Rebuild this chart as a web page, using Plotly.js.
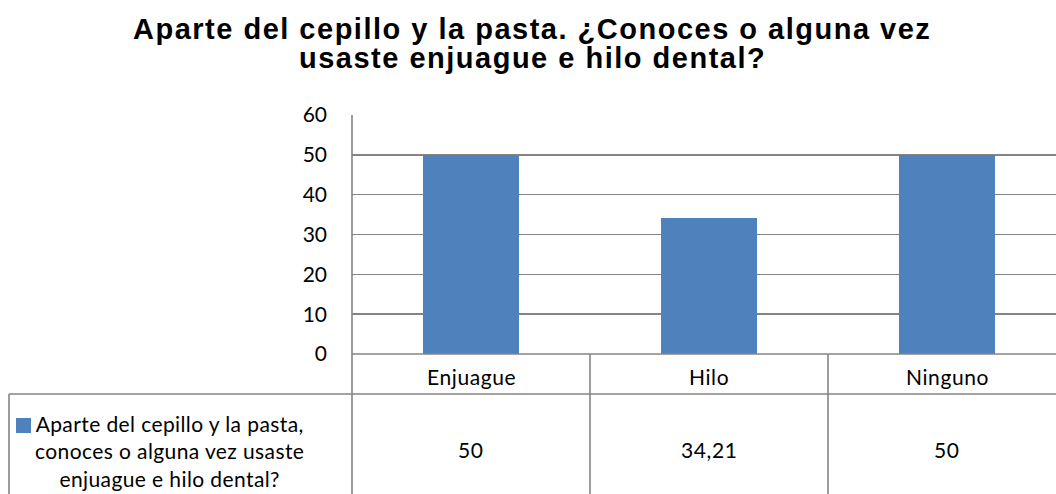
<!DOCTYPE html>
<html><head><meta charset="utf-8">
<script src="https://cdn.plot.ly/plotly-3.0.1.min.js"></script>
<style>html,body{margin:0;padding:0;background:#fff;}#chart{width:1056px;height:494px;}</style>
</head><body><div id="chart"></div>
<script>
const categories = ["Enjuague", "Hilo", "Ninguno"];
const values = [50, 34.21, 50];
const valueLabels = ["50", "34,21", "50"];
const seriesName = "Aparte del cepillo y la pasta,<br>conoces o alguna vez usaste<br>enjuague e hilo dental?";
const titleLines = ["Aparte del cepillo y la pasta. ¿Conoces o alguna vez", "usaste enjuague e hilo dental?"];
const yTicks = [0, 10, 20, 30, 40, 50, 60];

const W = 1056, H = 494;
const L = 352, T = 115, B = 354;        // plot area pixel bounds
const plotW = W - L, plotH = B - T;
const catW = 238;                        // px per category
const xMax = -0.5 + plotW / catW;
const px = p => (p - L) / plotW;         // pixel x -> paper
const py = p => (B - p) / plotH;         // pixel y -> paper
const gridC = "#848484";
const font = "Lato, 'Open Sans', sans-serif";
const sp = (t, s) => '<span style="letter-spacing:' + s + 'px">' + t + '</span>';

const idx = categories.map((c, i) => i);

const shapes = [];
const line = (x0, y0, x1, y1) => shapes.push({type: "line", xref: "paper", yref: "paper",
  x0: x0, y0: y0, x1: x1, y1: y1, line: {color: gridC, width: 1.6}, layer: "above"});
line(px(L), py(B), px(W + 20), py(B));
line(px(9), py(394), px(W + 20), py(394));
line(px(9), py(394), px(9), py(H + 10));
line(px(L), py(T), px(L), py(H + 10));
for (let i = 0; i < categories.length; i++) {
  shapes.push({type: "line", xref: "x", yref: "paper", x0: i + 0.5, x1: i + 0.5,
    y0: py(B), y1: py(H + 10), line: {color: gridC, width: 1.6}});
}
shapes.push({type: "rect", xref: "paper", yref: "paper", x0: px(16), x1: px(31), y0: py(433), y1: py(418),
  fillcolor: "#4F81BD", line: {width: 0}});

const annotations = [];
categories.forEach((c, i) => {
  annotations.push({xref: "x", yref: "paper", x: i, y: py(376), text: sp(c, 0.6), showarrow: false,
    font: {family: font, size: 21, color: "#000"}, xanchor: "center", yanchor: "middle"});
  annotations.push({xref: "x", yref: "paper", x: i, y: py(449), text: sp(valueLabels[i], 0.6), showarrow: false,
    font: {family: font, size: 21, color: "#000"}, xanchor: "center", yanchor: "middle"});
});
annotations.push({xref: "paper", yref: "paper", x: px(169), y: py(451), text: sp(seriesName, 0.4), showarrow: false,
  align: "center", xanchor: "center", yanchor: "middle",
  font: {family: font, size: 21, color: "#000"}});
const titleY = [29, 58];
titleLines.forEach((t, i) => {
  annotations.push({xref: "paper", yref: "paper", x: px(532), y: py(titleY[i]), text: sp(t, 1.5), showarrow: false,
    xanchor: "center", yanchor: "middle",
    font: {family: "Liberation Sans, Arial, sans-serif", size: 29, color: "#000", weight: "bold"}});
});

const data = [{
  type: "bar", x: idx, y: values, width: 0.404,
  marker: {color: "#4F81BD"}, hoverinfo: "skip"
}];

const layout = {
  width: W, height: H,
  margin: {l: L, r: 0, t: T, b: H - B, pad: 0},
  paper_bgcolor: "#fff", plot_bgcolor: "#fff",
  showlegend: false,
  xaxis: {range: [-0.5, xMax], showticklabels: false, showgrid: false, zeroline: false,
    showline: false, ticks: "", fixedrange: true},
  yaxis: {range: [0, 60], tickvals: yTicks, showgrid: true, gridcolor: gridC, gridwidth: 1.6,
    zeroline: false, showline: false, ticks: "", ticklabelstandoff: 24,
    tickfont: {family: font, size: 21, color: "#000"}, fixedrange: true},
  shapes: shapes, annotations: annotations, bargap: 0
};
Plotly.newPlot("chart", data, layout, {staticPlot: true, displayModeBar: false});
</script></body></html>
